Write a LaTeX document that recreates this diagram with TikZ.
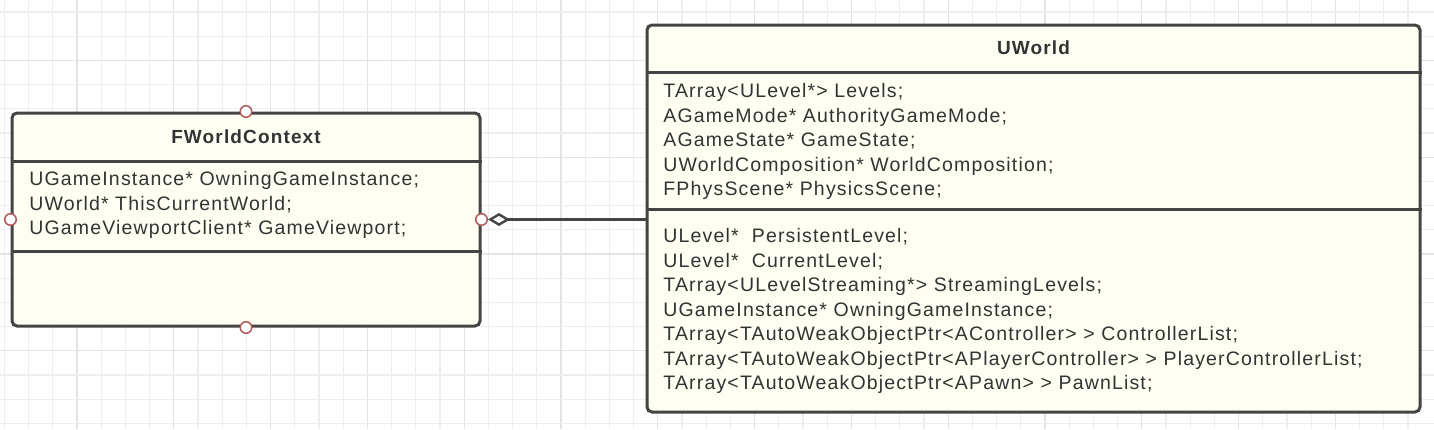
\documentclass[tikz,border=0pt]{standalone}
\usepackage{fontspec}
\setmainfont{Liberation Sans}[LetterSpace=6]
\usetikzlibrary{arrows.meta}
\definecolor{umlfill}{HTML}{FEFEF2}
\definecolor{umlline}{HTML}{444444}
\definecolor{umltext}{HTML}{333333}
\definecolor{portred}{HTML}{B05A5A}
\definecolor{gridminor}{HTML}{EEEEEE}
\definecolor{gridmajor}{HTML}{E3E3E3}
\newcommand{\umlsize}{\fontsize{9.75pt}{12.25pt}\selectfont}
\tikzset{
  classbox/.style={draw=umlline, line width=1.5pt, fill=umlfill, rounded corners=2.5pt, inner sep=0pt},
  classtitle/.style={font=\fontsize{9.5pt}{12.25pt}\selectfont\bfseries, text=umltext},
  members/.style={font=\umlsize, align=left, anchor=west, inner sep=0pt, text=umltext},
  sep/.style={draw=umlline, line width=1.5pt},
  port/.style={circle, draw=portred, fill=white, line width=0.75pt, minimum size=5.75pt, inner sep=0pt},
}
\begin{document}
\begin{tikzpicture}[x=0.5pt, y=-0.5pt]
\useasboundingbox (0,0) rectangle (1434,429);
\fill[white] (0,0) rectangle (1434,429);
% background grid
\foreach \k in {0,...,58} {
  \pgfmathtruncatemacro{\m}{mod(\k,4)}
  \ifnum\m=3 \def\gc{gridmajor}\else\def\gc{gridminor}\fi
  \draw[\gc, line width=0.6pt] (4.4+24.2*\k,0) -- (4.4+24.2*\k,429);
}
\foreach \k in {0,...,17} {
  \pgfmathtruncatemacro{\m}{mod(\k,4)}
  \ifnum\m=2 \def\gc{gridmajor}\else\def\gc{gridminor}\fi
  \draw[\gc, line width=0.6pt] (0,12+24.2*\k) -- (1434,12+24.2*\k);
}

% FWorldContext
\node[classbox, minimum width=234pt, minimum height=106.5pt] (ctx) at (246,219.5) {};
\draw[sep] (ctx.west |- 0,161) -- (ctx.east |- 0,161);
\draw[sep] (ctx.west |- 0,251) -- (ctx.east |- 0,251);
\node[classtitle] (ctxname) at (246,137) {FWorldContext};
\node[members] (ctxattr) at (29,205) {UGameInstance* OwningGameInstance;\\UWorld* ThisCurrentWorld;\\UGameViewportClient* GameViewport;};

% UWorld
\node[classbox, minimum width=386.5pt, minimum height=193.5pt] (world) at (1033.5,218.5) {};
\draw[sep] (world.west |- 0,72) -- (world.east |- 0,72);
\draw[sep] (world.west |- 0,209) -- (world.east |- 0,209);
\node[classtitle] (worldname) at (1033.5,48) {UWorld};
\node[members] (worldattr) at (663,141.5) {TArray<ULevel*> Levels;\\AGameMode* AuthorityGameMode;\\AGameState* GameState;\\UWorldComposition* WorldComposition;\\FPhysScene* PhysicsScene;};
\node[members] (worldops) at (663,311) {ULevel*\ \ PersistentLevel;\\ULevel*\ \ CurrentLevel;\\TArray<ULevelStreaming*> StreamingLevels;\\UGameInstance* OwningGameInstance;\\TArray<TAutoWeakObjectPtr<AController> > ControllerList;\\TArray<TAutoWeakObjectPtr<APlayerController> > PlayerControllerList;\\TArray<TAutoWeakObjectPtr<APawn> > PawnList;};

% ports
\node[port] (pt) at (ctx.north) {};
\node[port] (pb) at (ctx.south) {};
\node[port] (pl) at (ctx.west) {};
\node[port] (pr) at (ctx.east) {};

% aggregation
\draw[umlline, line width=1.5pt, {Diamond[open, length=11pt, width=6.5pt, line width=1.2pt]}-] (pr.east) -- (pr -| world.west);
\end{tikzpicture}
\end{document}
